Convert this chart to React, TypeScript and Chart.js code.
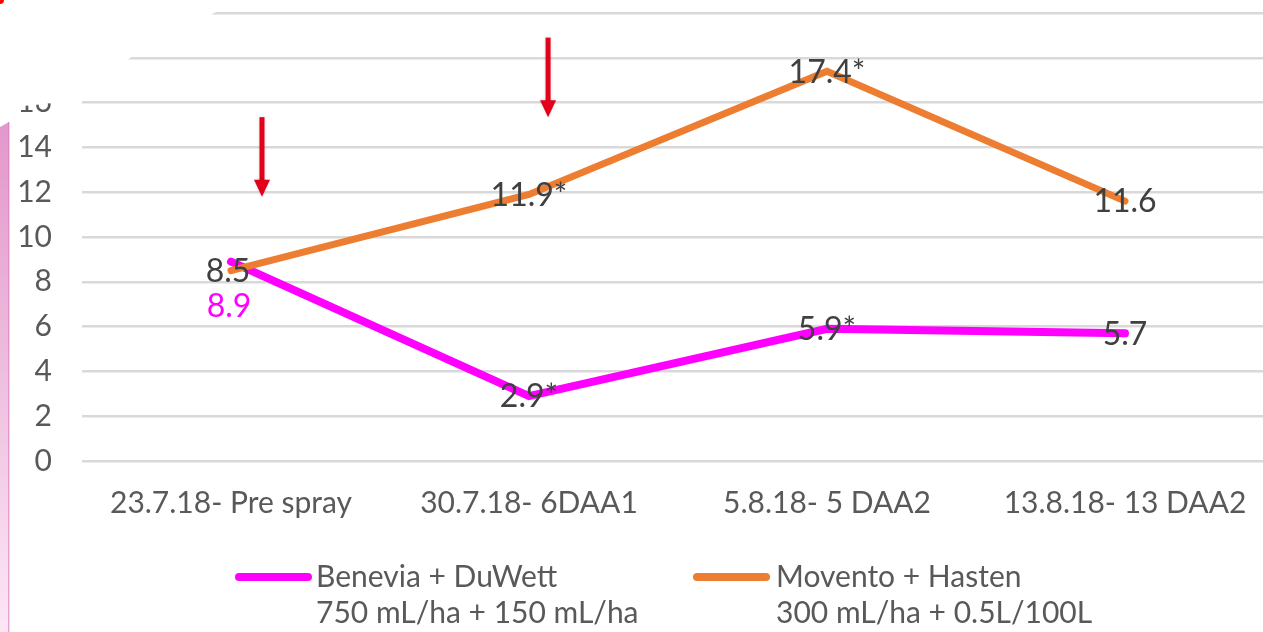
import React, { useEffect, useRef } from 'react';
import { Chart, registerables } from 'chart.js';

Chart.register(...registerables);

const categories = ['23.7.18- Pre spray', '30.7.18- 6DAA1', '5.8.18- 5 DAA2', '13.8.18- 13 DAA2'];
const beneviaValues = [8.9, 2.9, 5.9, 5.7];
const moventoValues = [8.5, 11.9, 17.4, 11.6];
const beneviaLabels = ['8.9', '2.9*', '5.9*', '5.7'];
const moventoLabels = ['8.5', '11.9*', '17.4*', '11.6'];
const beneviaLegend = ['Benevia + DuWett', '750 mL/ha + 150 mL/ha'];
const moventoLegend = ['Movento + Hasten', '300 mL/ha + 0.5L/100L'];
// arrows: category index, fractional shift within category, top value, bottom value
const arrowCats = [0, 1];
const arrowShift = [0.104, 0.064];
const arrowTop = [15.35, 18.9];
const arrowBottom = [11.8, 15.35];

const PINK = '#ff00ff';
const ORANGE = '#ed7d31';
const FONT = 'Lato, "Open Sans", sans-serif';

const decorPlugin = {
  id: 'decor',
  beforeDatasetsDraw(chart: any) {
    const ctx = chart.ctx;
    ctx.save();
    ctx.fillStyle = '#ffffff';
    ctx.beginPath();
    ctx.moveTo(0, 0);
    ctx.lineTo(260, 0);
    ctx.lineTo(218, 11);
    ctx.lineTo(133, 55.5);
    ctx.lineTo(84, 99);
    ctx.lineTo(40, 104.5);
    ctx.lineTo(0, 108);
    ctx.closePath();
    ctx.fill();
    ctx.restore();
  },
  afterDatasetsDraw(chart: any) {
    const ctx = chart.ctx;
    const x = chart.scales.x;
    const y = chart.scales.y;
    const catW = (x.right - x.left) / categories.length;
    // arrows
    ctx.save();
    for (let i = 0; i < arrowCats.length; i++) {
      const ax = x.getPixelForValue(arrowCats[i]) + arrowShift[i] * catW;
      const top = y.getPixelForValue(arrowTop[i]);
      const bot = y.getPixelForValue(arrowBottom[i]);
      ctx.shadowColor = 'rgba(0,0,0,0.18)';
      ctx.shadowBlur = 3;
      ctx.fillStyle = '#e3001b';
      ctx.fillRect(ax - 2.5, top, 5, bot - top - 15);
      ctx.beginPath();
      ctx.moveTo(ax - 8, bot - 17);
      ctx.lineTo(ax + 8, bot - 17);
      ctx.lineTo(ax, bot);
      ctx.closePath();
      ctx.fill();
    }
    ctx.restore();

    // data labels
    ctx.save();
    ctx.font = `32px ${FONT}`;
    ctx.textAlign = 'center';
    ctx.textBaseline = 'middle';
    const sets = [
      { idx: 0, labels: moventoLabels },
      { idx: 1, labels: beneviaLabels },
    ];
    sets.forEach((s) => {
      const meta = chart.getDatasetMeta(s.idx);
      meta.data.forEach((pt: any, i: number) => {
        let dx = 0;
        let dy = 1;
        let color = '#404040';
        if (s.idx === 1 && i === 0) {
          dy = 45;
          color = PINK;
          dx = -2;
        }
        if (s.idx === 0 && i === 0) dx = -3;
        ctx.fillStyle = color;
        ctx.fillText(s.labels[i], pt.x + dx, pt.y + dy);
      });
    });
    ctx.restore();
  },
  afterDraw(chart: any) {
    const ctx = chart.ctx;
    ctx.save();
    // pink side strip
    const g = ctx.createLinearGradient(0, 122, 0, 632);
    g.addColorStop(0, '#e397cb');
    g.addColorStop(0.5, '#eebfdf');
    g.addColorStop(1, '#fde6f5');
    ctx.fillStyle = g;
    ctx.beginPath();
    ctx.moveTo(0, 127);
    ctx.lineTo(9, 122);
    ctx.lineTo(9, 632);
    ctx.lineTo(0, 632);
    ctx.closePath();
    ctx.fill();
    ctx.fillStyle = 'rgba(220,120,190,0.6)';
    ctx.fillRect(8, 122, 1.5, 510);
    // red speck
    ctx.fillStyle = '#ff0000';
    ctx.beginPath();
    ctx.arc(0, 0, 4, 0, Math.PI * 2);
    ctx.fill();

    // legend
    ctx.font = `30px ${FONT}`;
    ctx.textBaseline = 'middle';
    ctx.textAlign = 'left';
    const items = [
      { color: PINK, lines: beneviaLegend, x0: 239, x1: 308, tx: 316 },
      { color: ORANGE, lines: moventoLegend, x0: 697, x1: 766, tx: 776 },
    ];
    items.forEach((it) => {
      ctx.strokeStyle = it.color;
      ctx.lineWidth = 8;
      ctx.lineCap = 'round';
      ctx.beginPath();
      ctx.moveTo(it.x0, 577);
      ctx.lineTo(it.x1, 577);
      ctx.stroke();
      ctx.fillStyle = '#595959';
      it.lines.forEach((l, k) => ctx.fillText(l, it.tx, 577 + k * 36));
    });
    ctx.restore();
  },
};

export default function App() {
  const ref = useRef<HTMLCanvasElement>(null);
  useEffect(() => {
    if (!ref.current) return;
    const chart = new Chart(ref.current, {
      type: 'line',
      data: {
        labels: categories,
        datasets: [
          {
            label: 'Movento + Hasten',
            data: moventoValues,
            borderColor: ORANGE,
            backgroundColor: ORANGE,
            borderWidth: 7,
            borderCapStyle: 'round',
            pointRadius: 0,
            tension: 0,
            order: 0,
          },
          {
            label: 'Benevia + DuWett',
            data: beneviaValues,
            borderColor: PINK,
            backgroundColor: PINK,
            borderWidth: 8,
            borderCapStyle: 'round',
            pointRadius: 0,
            tension: 0,
            order: 1,
          },
        ],
      },
      plugins: [decorPlugin],
      options: {
        responsive: false,
        animation: false,
        devicePixelRatio: 1,
        layout: { padding: { top: 13, left: 0, right: 0, bottom: 0 } },
        plugins: { legend: { display: false }, tooltip: { enabled: false } },
        scales: {
          x: {
            offset: true,
            grid: { display: false, drawTicks: false },
            border: { display: false },
            ticks: {
              color: '#595959',
              font: { family: FONT, size: 30 },
              padding: 24,
              maxRotation: 0,
              autoSkip: false,
            },
            afterFit(s: any) {
              s.height = 171;
              s.paddingLeft = 0;
              s.paddingRight = 0;
            },
          },
          y: {
            min: 0,
            max: 20,
            grid: { color: '#d9d9d9', lineWidth: 2.5, drawTicks: false },
            border: { display: false },
            ticks: {
              stepSize: 2,
              color: '#595959',
              font: { family: FONT, size: 30 },
              padding: 30,
              callback: (v: any) => (Number(v) > 16 ? '' : String(v)),
            },
            afterFit(s: any) {
              s.width = 82;
              s.paddingTop = 0;
              s.paddingBottom = 0;
            },
          },
        },
      },
    } as any);
    return () => chart.destroy();
  }, []);
  return (
    <div style={{ position: 'fixed', left: 0, top: 0, width: 1263, height: 632, overflow: 'hidden', background: '#fff' }}>
      <canvas ref={ref} width={1274} height={632} style={{ width: 1274, height: 632, display: 'block' }} />
    </div>
  );
}
